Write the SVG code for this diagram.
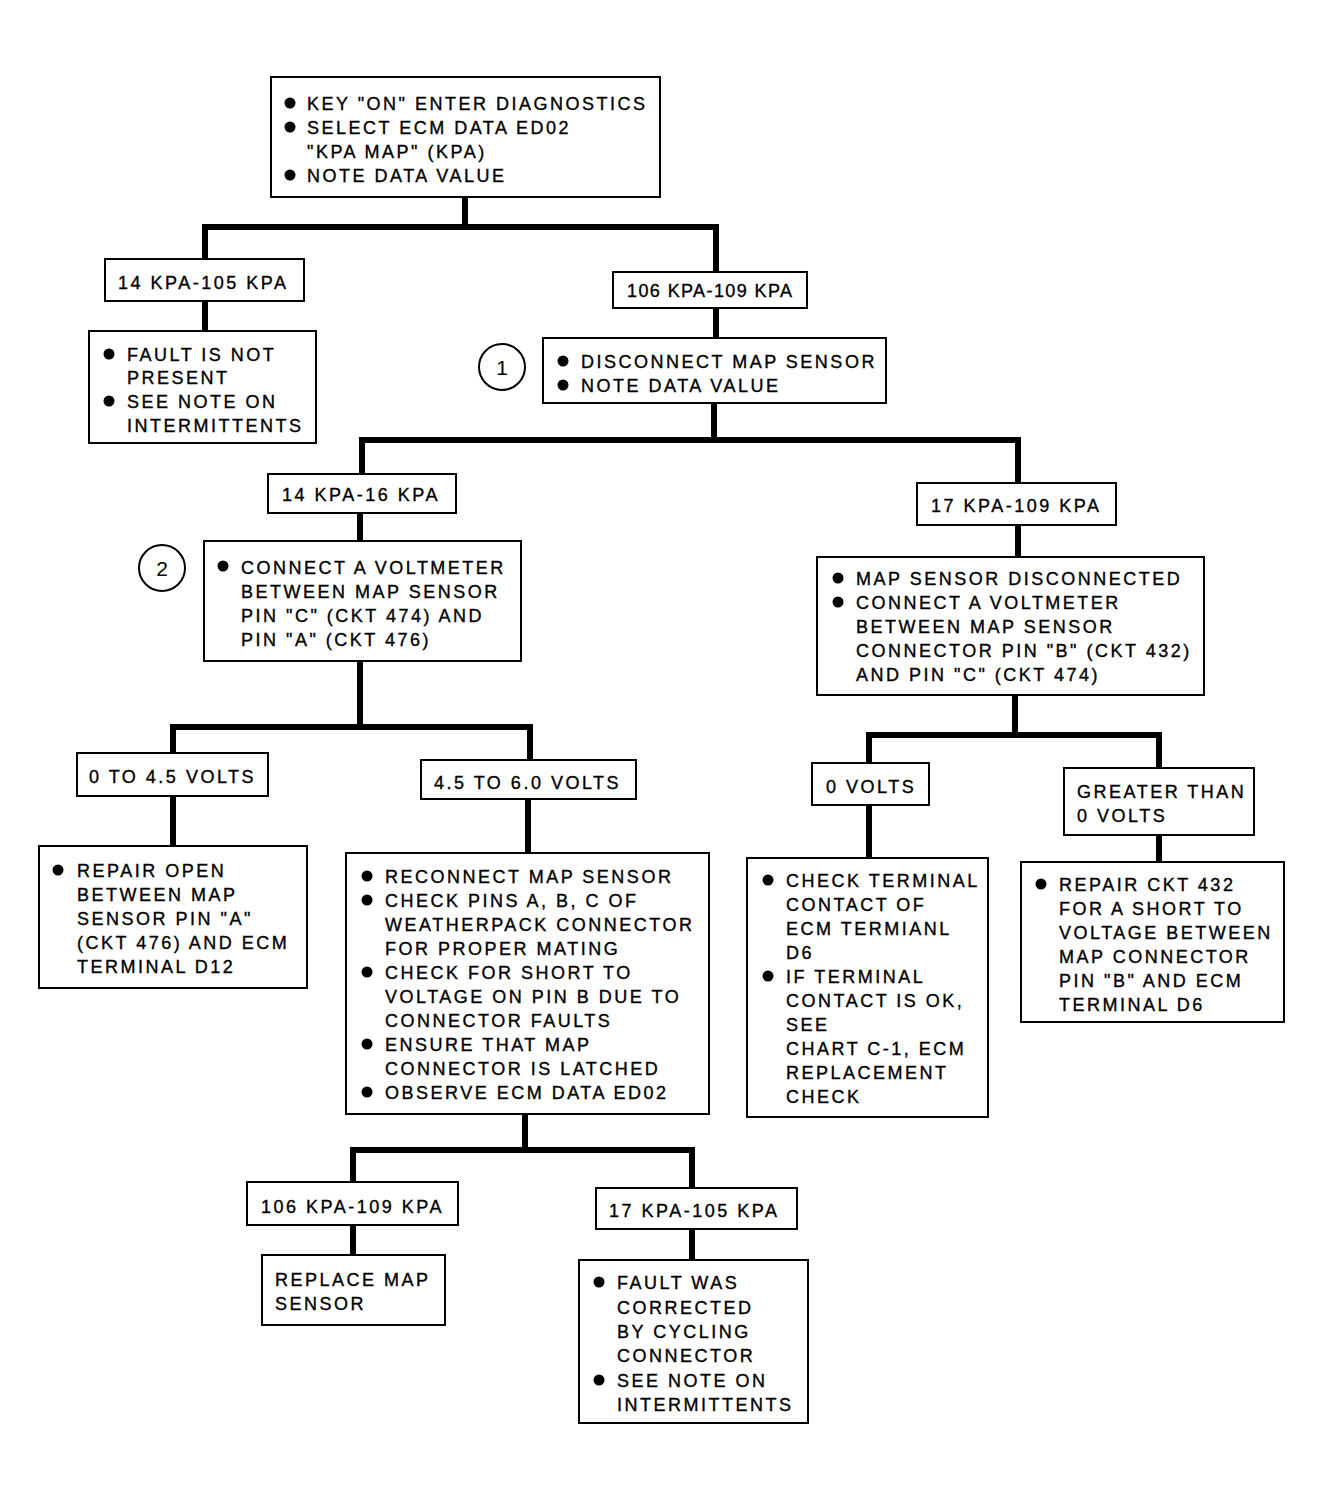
<svg xmlns="http://www.w3.org/2000/svg" width="1323" height="1502" viewBox="0 0 1323 1502">
<style>
  .box { fill: #fff; stroke: #000; stroke-width: 2; }
  .t { font-family: "Liberation Sans", Arial, sans-serif; font-size: 18px; letter-spacing: 2.5px; fill: #000; stroke: #000; stroke-width: 0.35px; }
  .tight { letter-spacing: 1.4px; }
  .b { fill: #000; }
  .conn { fill: none; stroke: #000; stroke-width: 6; stroke-linejoin: miter; stroke-linecap: square; }
  .ring { fill: #fff; stroke: #000; stroke-width: 2; }
  .num { font-family: "Liberation Sans", Arial, sans-serif; font-size: 21px; fill: #000; text-anchor: middle; }
</style>
<rect width="1323" height="1502" fill="#fff"/>
<g id="connectors">
  <path class="conn" d="M465,197 V227 M205,259 V227 H716 V272"/>
  <path class="conn" d="M205,301 V331"/>
  <path class="conn" d="M716,308 V338"/>
  <path class="conn" d="M714,403 V440 M362,474 V440 H1018 V484"/>
  <path class="conn" d="M360,513 V541"/>
  <path class="conn" d="M360,661 V727 M173,753 V727 H530 V760"/>
  <path class="conn" d="M173,796 V846"/>
  <path class="conn" d="M528,799 V853"/>
  <path class="conn" d="M525,1114 V1150 M353,1182 V1150 H692 V1188"/>
  <path class="conn" d="M353,1225 V1255"/>
  <path class="conn" d="M692,1229 V1260"/>
  <path class="conn" d="M1018,525 V557"/>
  <path class="conn" d="M1015,695 V735 M869,763 V735 H1159 V768"/>
  <path class="conn" d="M869,805 V858"/>
  <path class="conn" d="M1159,835 V862"/>
</g>
<g id="n-start">
  <rect class="box" x="271" y="77" width="389" height="120"/>
  <circle class="b" cx="290" cy="103" r="5.5"/>
  <circle class="b" cx="290" cy="127" r="5.5"/>
  <circle class="b" cx="290" cy="175" r="5.5"/>
  <text class="t" x="307" y="110">KEY "ON" ENTER DIAGNOSTICS</text>
  <text class="t" x="307" y="134">SELECT ECM DATA ED02</text>
  <text class="t" x="307" y="158">"KPA MAP" (KPA)</text>
  <text class="t" x="307" y="182">NOTE DATA VALUE</text>
</g>
<g id="n-14-105">
  <rect class="box" x="105" y="259" width="199" height="42"/>
  <text class="t" x="118" y="289">14 KPA-105 KPA</text>
</g>
<g id="n-fault-not">
  <rect class="box" x="89" y="331" width="227" height="112"/>
  <circle class="b" cx="109" cy="354" r="5.5"/>
  <circle class="b" cx="109" cy="401" r="5.5"/>
  <text class="t" x="127" y="361">FAULT IS NOT</text>
  <text class="t" x="127" y="384">PRESENT</text>
  <text class="t" x="127" y="408">SEE NOTE ON</text>
  <text class="t" x="127" y="432">INTERMITTENTS</text>
</g>
<g id="n-106-109">
  <rect class="box" x="613" y="272" width="194" height="36"/>
  <text class="t tight" x="627" y="297">106 KPA-109 KPA</text>
</g>
<g id="n-disconnect">
  <circle class="ring" cx="502" cy="367" r="23"/>
  <text class="num" x="502" y="375">1</text>
  <rect class="box" x="543" y="338" width="343" height="65"/>
  <circle class="b" cx="563" cy="361" r="5.5"/>
  <circle class="b" cx="563" cy="385" r="5.5"/>
  <text class="t" x="581" y="368">DISCONNECT MAP SENSOR</text>
  <text class="t" x="581" y="392">NOTE DATA VALUE</text>
</g>
<g id="n-14-16">
  <rect class="box" x="268" y="474" width="188" height="39"/>
  <text class="t" x="282" y="501">14 KPA-16 KPA</text>
</g>
<g id="n-voltmeter1">
  <circle class="ring" cx="162" cy="568" r="23"/>
  <text class="num" x="162" y="576">2</text>
  <rect class="box" x="204" y="541" width="317" height="120"/>
  <circle class="b" cx="223" cy="566" r="5.5"/>
  <text class="t" x="241" y="574">CONNECT A VOLTMETER</text>
  <text class="t" x="241" y="598">BETWEEN MAP SENSOR</text>
  <text class="t" x="241" y="622">PIN "C" (CKT 474) AND</text>
  <text class="t" x="241" y="646">PIN "A" (CKT 476)</text>
</g>
<g id="n-0-45">
  <rect class="box" x="77" y="753" width="191" height="43"/>
  <text class="t" x="89" y="783">0 TO 4.5 VOLTS</text>
</g>
<g id="n-repair-open">
  <rect class="box" x="39" y="846" width="268" height="142"/>
  <circle class="b" cx="58" cy="870" r="5.5"/>
  <text class="t" x="77" y="877">REPAIR OPEN</text>
  <text class="t" x="77" y="901">BETWEEN MAP</text>
  <text class="t" x="77" y="925">SENSOR PIN "A"</text>
  <text class="t" x="77" y="949">(CKT 476) AND ECM</text>
  <text class="t" x="77" y="973">TERMINAL D12</text>
</g>
<g id="n-45-60">
  <rect class="box" x="421" y="760" width="215" height="39"/>
  <text class="t" x="434" y="789">4.5 TO 6.0 VOLTS</text>
</g>
<g id="n-reconnect">
  <rect class="box" x="346" y="853" width="363" height="261"/>
  <circle class="b" cx="367" cy="876" r="5.5"/>
  <circle class="b" cx="367" cy="900" r="5.5"/>
  <circle class="b" cx="367" cy="972" r="5.5"/>
  <circle class="b" cx="367" cy="1044" r="5.5"/>
  <circle class="b" cx="367" cy="1092" r="5.5"/>
  <text class="t" x="385" y="883">RECONNECT MAP SENSOR</text>
  <text class="t" x="385" y="907">CHECK PINS A, B, C OF</text>
  <text class="t" x="385" y="931">WEATHERPACK CONNECTOR</text>
  <text class="t" x="385" y="955">FOR PROPER MATING</text>
  <text class="t" x="385" y="979">CHECK FOR SHORT TO</text>
  <text class="t" x="385" y="1003">VOLTAGE ON PIN B DUE TO</text>
  <text class="t" x="385" y="1027">CONNECTOR FAULTS</text>
  <text class="t" x="385" y="1051">ENSURE THAT MAP</text>
  <text class="t" x="385" y="1075">CONNECTOR IS LATCHED</text>
  <text class="t" x="385" y="1099">OBSERVE ECM DATA ED02</text>
</g>
<g id="n-106-109b">
  <rect class="box" x="247" y="1182" width="211" height="43"/>
  <text class="t" x="261" y="1213">106 KPA-109 KPA</text>
</g>
<g id="n-replace">
  <rect class="box" x="262" y="1255" width="183" height="70"/>
  <text class="t" x="275" y="1286">REPLACE MAP</text>
  <text class="t" x="275" y="1310">SENSOR</text>
</g>
<g id="n-17-105">
  <rect class="box" x="596" y="1188" width="201" height="41"/>
  <text class="t" x="609" y="1217">17 KPA-105 KPA</text>
</g>
<g id="n-fault-was">
  <rect class="box" x="579" y="1260" width="229" height="163"/>
  <circle class="b" cx="599" cy="1282" r="5.5"/>
  <circle class="b" cx="599" cy="1380" r="5.5"/>
  <text class="t" x="617" y="1289">FAULT WAS</text>
  <text class="t" x="617" y="1314">CORRECTED</text>
  <text class="t" x="617" y="1338">BY CYCLING</text>
  <text class="t" x="617" y="1362">CONNECTOR</text>
  <text class="t" x="617" y="1387">SEE NOTE ON</text>
  <text class="t" x="617" y="1411">INTERMITTENTS</text>
</g>
<g id="n-17-109">
  <rect class="box" x="917" y="483" width="199" height="42"/>
  <text class="t" x="931" y="512">17 KPA-109 KPA</text>
</g>
<g id="n-voltmeter2">
  <rect class="box" x="817" y="557" width="387" height="138"/>
  <circle class="b" cx="838" cy="578" r="5.5"/>
  <circle class="b" cx="838" cy="602" r="5.5"/>
  <text class="t" x="856" y="585">MAP SENSOR DISCONNECTED</text>
  <text class="t" x="856" y="609">CONNECT A VOLTMETER</text>
  <text class="t" x="856" y="633">BETWEEN MAP SENSOR</text>
  <text class="t" x="856" y="657">CONNECTOR PIN "B" (CKT 432)</text>
  <text class="t" x="856" y="681">AND PIN "C" (CKT 474)</text>
</g>
<g id="n-0v">
  <rect class="box" x="812" y="763" width="117" height="42"/>
  <text class="t" x="826" y="793">0 VOLTS</text>
</g>
<g id="n-check-terminal">
  <rect class="box" x="747" y="858" width="241" height="259"/>
  <circle class="b" cx="768" cy="880" r="5.5"/>
  <circle class="b" cx="768" cy="976" r="5.5"/>
  <text class="t" x="786" y="887">CHECK TERMINAL</text>
  <text class="t" x="786" y="911">CONTACT OF</text>
  <text class="t" x="786" y="935">ECM TERMIANL</text>
  <text class="t" x="786" y="959">D6</text>
  <text class="t" x="786" y="983">IF TERMINAL</text>
  <text class="t" x="786" y="1007">CONTACT IS OK,</text>
  <text class="t" x="786" y="1031">SEE</text>
  <text class="t" x="786" y="1055">CHART C-1, ECM</text>
  <text class="t" x="786" y="1079">REPLACEMENT</text>
  <text class="t" x="786" y="1103">CHECK</text>
</g>
<g id="n-greater">
  <rect class="box" x="1064" y="768" width="190" height="67"/>
  <text class="t" x="1077" y="798">GREATER THAN</text>
  <text class="t" x="1077" y="822">0 VOLTS</text>
</g>
<g id="n-repair-432">
  <rect class="box" x="1021" y="862" width="263" height="160"/>
  <circle class="b" cx="1041" cy="884" r="5.5"/>
  <text class="t" x="1059" y="891">REPAIR CKT 432</text>
  <text class="t" x="1059" y="915">FOR A SHORT TO</text>
  <text class="t" x="1059" y="939">VOLTAGE BETWEEN</text>
  <text class="t" x="1059" y="963">MAP CONNECTOR</text>
  <text class="t" x="1059" y="987">PIN "B" AND ECM</text>
  <text class="t" x="1059" y="1011">TERMINAL D6</text>
</g>
</svg>
